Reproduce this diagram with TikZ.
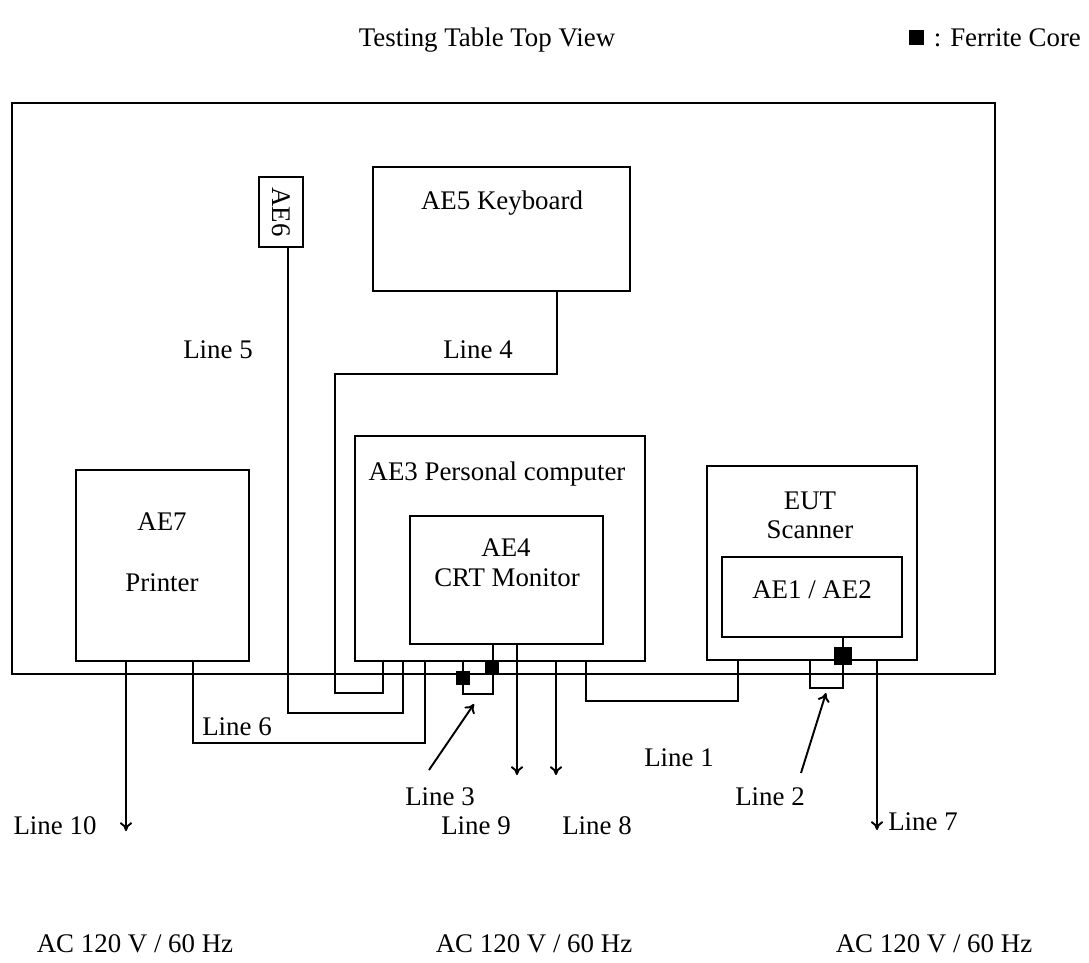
\documentclass[tikz,border=0pt]{standalone}
\usepackage{fontspec}
\setmainfont{Liberation Serif}
\usepackage{tikz}
\usetikzlibrary{arrows, arrows.meta, positioning}

\begin{document}
\begin{tikzpicture}[x=0.02cm, y=-0.02cm, line width=1.1pt,
    font=\fontsize{15.3}{18}\selectfont,
    >={To[length=5pt, width=7pt]},
    box/.style={draw, inner sep=0pt},
    core/.style={fill=black, inner sep=0pt, minimum size=#1},
    core/.default=0.28cm]
\useasboundingbox (0,0) rectangle (1089,963);

%naslov i legenda
    \node (title) at (487,40) {Testing Table Top View};
    \node[core=0.3cm] (legcore) at (916,38) {};
    \node[anchor=west] (legtxt) at (927,38) {: Ferrite Core};

%stol
    \draw (12,103) rectangle (995,674);

%uredjaji
    %tipkovnica
    \node[box, minimum width=5.14cm, minimum height=2.48cm] (kbd) at (501.5,229) {};
    \node (kbdtxt) at (502,203) {AE5 Keyboard};

    %AE6
    \node[box, minimum width=0.88cm, minimum height=1.4cm] (ae6) at (281,212) {};
    \node[rotate=-90] (ae6txt) at (ae6) {AE6};

    %racunalo i monitor
    \node[box, minimum width=5.8cm, minimum height=4.5cm] (pc) at (500,548.5) {};
    \node (pctxt) at (497,474) {AE3 Personal computer};
    \node[box, minimum width=3.86cm, minimum height=2.56cm] (mon) at (506.5,580) {};
    \node (montxt1) at (506,548) {AE4};
    \node (montxt2) at (507,578) {CRT Monitor};

    %EUT
    \node[box, minimum width=4.2cm, minimum height=3.88cm] (eut) at (812,563) {};
    \node (euttxt1) at (810,501) {EUT};
    \node (euttxt2) at (810,530) {Scanner};
    \node[box, minimum width=3.6cm, minimum height=1.6cm] (ae12) at (812,597) {};
    \node (ae12txt) at (812,590) {AE1 / AE2};

    %printer
    \node[box, minimum width=3.46cm, minimum height=3.82cm] (prn) at (162.5,565.5) {};
    \node (prntxt1) at (162,522) {AE7};
    \node (prntxt2) at (162,583) {Printer};

%kabeli
    %Line 4
    \draw (557,0 |- kbd.south) -- (557,374) -| (335,693) -| (383,0 |- pc.south);
    \node (l4) at (478,350) {Line 4};

    %Line 5
    \draw (288,0 |- ae6.south) -- (288,713) -| (403,0 |- pc.south);
    \node (l5) at (218,350) {Line 5};

    %Line 6
    \draw (193,0 |- prn.south) -- (193,743) -| (425,0 |- pc.south);
    \node (l6) at (237,727) {Line 6};

    %Line 3
    \draw (463,0 |- pc.south) -- (463,694) -| (493,0 |- mon.south);
    \node[core] (c3a) at (463,678) {};
    \node[core=0.27cm] (c3b) at (492,667) {};
    \node (l3) at (440,797) {Line 3};
    \coordinate (p3a) at (429,770);
    \coordinate (p3b) at (474,704);
    \draw[->] (p3a) -- (p3b);

    %Line 1
    \draw (586,0 |- pc.south) -- (586,701) -| (738,0 |- eut.south);
    \node (l1) at (679,758) {Line 1};

    %Line 2
    \draw (843,0 |- ae12.south) -- (843,688) -| (810,0 |- eut.south);
    \node[core=0.37cm] (c2) at (843,656) {};
    \node (l2) at (770,797) {Line 2};
    \coordinate (p2a) at (801,773);
    \coordinate (p2b) at (826,693);
    \draw[->] (p2a) -- (p2b);

%napajanje
    \coordinate (e10) at (126,831);
    \coordinate (e9) at (517,775);
    \coordinate (e8) at (556,775);
    \coordinate (e7) at (877,830);
    \draw[->] (126,0 |- prn.south) -- (e10);
    \draw[->] (517,0 |- mon.south) -- (e9);
    \draw[->] (556,0 |- pc.south) -- (e8);
    \draw[->] (877,0 |- eut.south) -- (e7);
    \node (l10) at (55,826) {Line 10};
    \node (l9) at (476,826) {Line 9};
    \node (l8) at (597,826) {Line 8};
    \node (l7) at (923,822) {Line 7};

    \node (ac1) at (135,944) {AC 120 V / 60 Hz};
    \node (ac2) at (534,944) {AC 120 V / 60 Hz};
    \node (ac3) at (934,944) {AC 120 V / 60 Hz};
\end{tikzpicture}
\end{document}
